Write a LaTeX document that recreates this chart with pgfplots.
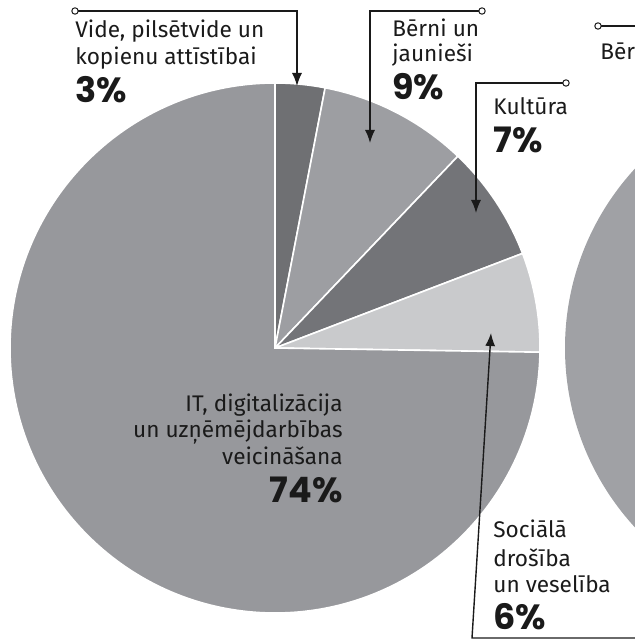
\documentclass[border=0pt]{standalone}
\usepackage{pgfplots}
\pgfplotsset{compat=1.18}
\usetikzlibrary{arrows.meta}
\usepackage{fontspec}
\setmainfont{Fira Sans}
\newfontfamily\pctfont{Poppins}
\definecolor{cVide}{HTML}{6F7073}
\definecolor{cBerni}{HTML}{9D9EA2}
\definecolor{cKult}{HTML}{737478}
\definecolor{cSoc}{HTML}{C9CACC}
\definecolor{cIT}{HTML}{97989C}
\definecolor{cOther}{HTML}{A0A1A5}
\definecolor{txt}{HTML}{1A1A1A}
\begin{document}
\begin{tikzpicture}
\begin{axis}[name=ax, scale only axis, width=317.5pt, height=321.5pt,
  xmin=0, xmax=635, ymin=0, ymax=643, hide axis, clip=true]
% second (cropped) pie on the right
\fill[cOther] (axis cs:830,295) circle[radius=132.5pt];
% main pie: shares in percent (they add up to 99)
\xdef\cum{90}
\foreach \v/\c in {3/cVide,9/cBerni,7/cKult,6/cSoc,74/cIT}{%
  \pgfmathsetmacro\nxt{\cum-360/99*\v}%
  \edef\temp{\noexpand\fill[\c, draw=white, line width=0.8pt] (axis cs:275,295) -- ++(\cum:132.5pt) arc[start angle=\cum, end angle=\nxt, radius=132.5pt] -- cycle;}%
  \temp
  \xdef\cum{\nxt}%
}
% leader lines
\tikzset{lead/.style={line width=0.7pt, txt, -{Latex[length=6.5pt,width=5pt]}},
         dot/.style={fill=white, draw=txt, line width=0.5pt}}
\draw[lead] (axis cs:75,632) -- (axis cs:297,632) -- (axis cs:297,557);
\draw[dot] (axis cs:75,632) circle[radius=1.6pt];
\draw[lead] (axis cs:482,632) -- (axis cs:370,632) -- (axis cs:370,500);
\draw[dot] (axis cs:482,632) circle[radius=1.6pt];
\draw[lead] (axis cs:566,560) -- (axis cs:476,560) -- (axis cs:476,430);
\draw[dot] (axis cs:566,560) circle[radius=1.6pt];
\draw[lead] (axis cs:635,5) -- (axis cs:472,5) -- (axis cs:491,310);
\draw[line width=0.7pt, txt] (axis cs:598,617) -- (axis cs:635,617);
\draw[dot] (axis cs:598,617) circle[radius=1.6pt];
% labels
\tikzset{lab/.style={anchor=base west, inner sep=0pt, text=txt, font=\fontsize{11.3}{12}\selectfont},
         pct/.style={anchor=base west, inner sep=0pt, text=txt, font=\pctfont\fontsize{17.5}{20}\selectfont\bfseries},
         labr/.style={lab, anchor=base east}, pctr/.style={pct, anchor=base east}}
\node[lab] at (axis cs:75,605) {Vide, pilsētvide un};
\node[lab] at (axis cs:75,578) {kopienu attīstībai};
\node[pct] at (axis cs:75,540) {3\%};
\node[lab] at (axis cs:392,606) {Bērni un};
\node[lab] at (axis cs:392,581) {jaunieši};
\node[pct] at (axis cs:392,543) {9\%};
\node[lab] at (axis cs:493,528) {Kultūra};
\node[pct] at (axis cs:493,490) {7\%};
\node[lab] at (axis cs:600,583) {Bērni un};
\node[labr] at (axis cs:343,231) {IT, digitalizācija};
\node[labr] at (axis cs:343,205) {un uzņēmējdarbības};
\node[labr] at (axis cs:343,178) {veicināšana};
\node[pctr] at (axis cs:343,140) {74\%};
\node[lab] at (axis cs:493,105) {Sociālā};
\node[lab] at (axis cs:493,76) {drošība};
\node[lab] at (axis cs:493,50) {un veselība};
\node[pct] at (axis cs:493,13) {6\%};
\end{axis}
\pgfresetboundingbox
\path[use as bounding box] (ax.south west) rectangle (ax.north east);
\end{tikzpicture}
\end{document}
